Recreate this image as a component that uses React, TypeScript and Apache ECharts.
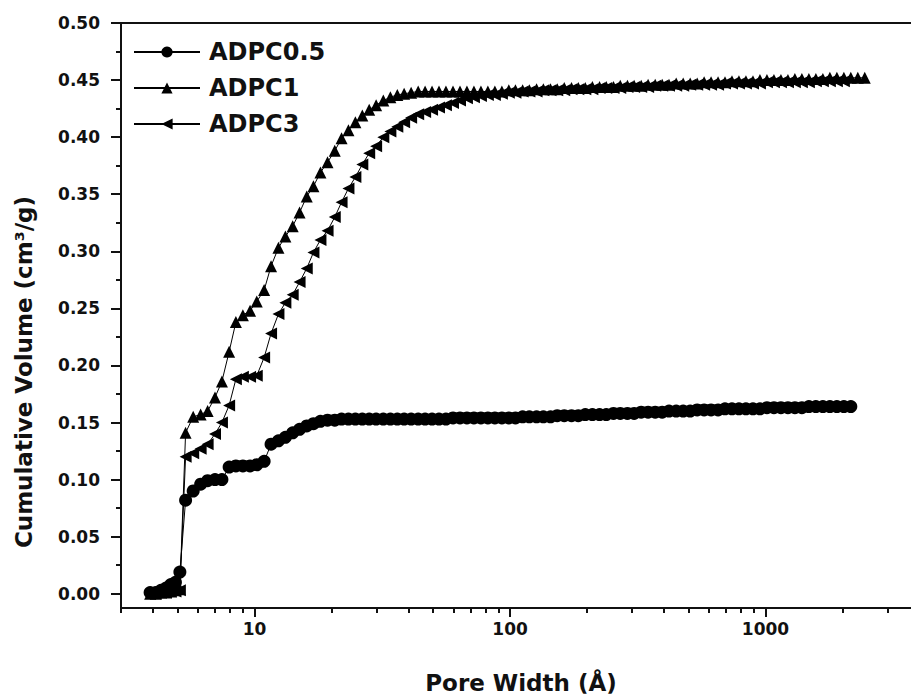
import React, { useEffect, useRef } from "react";
import * as echarts from "echarts";

// Pore widths (Å) shared by the three series
const poreWidth = [
  3.9, 4.1, 4.3, 4.5, 4.7, 4.9, 5.1,
  5.37, 5.75, 6.15, 6.55, 7.0, 7.45, 7.95, 8.45, 9.0, 9.6,
  10.2, 10.9, 11.6, 12.4, 13.2, 14.1, 15.0, 16.0, 17.0, 18.1,
  19.3, 20.6, 21.9, 23.3, 24.8, 26.4, 28.1, 29.9, 31.9, 34.0,
  36.2, 38.5, 41.0, 43.7, 46.5, 49.5, 52.7, 56.1, 59.8, 63.7,
  67.8, 72.2, 76.9, 81.9, 87.2, 92.9, 98.9, 105, 112, 119,
  127, 135, 144, 153, 163, 174, 185, 197, 210, 224,
  238, 254, 270, 288, 306, 326, 347, 370, 394, 419,
  447, 476, 507, 540, 575, 612, 652, 694, 739, 787,
  838, 893, 951, 1013, 1079, 1149, 1224, 1303, 1388, 1478,
  1574, 1677, 1786, 1902, 2026, 2157, 2297, 2446,
];

const adpc05 = [
  0.001, 0.001, 0.003, 0.005, 0.008, 0.010, 0.019,
  0.082, 0.090, 0.096, 0.099, 0.100, 0.100, 0.111, 0.112, 0.112, 0.112,
  0.113, 0.116, 0.131, 0.134, 0.137, 0.141, 0.144, 0.147, 0.149, 0.151,
  0.152, 0.152, 0.153, 0.153, 0.153, 0.153, 0.153, 0.153, 0.153, 0.153,
  0.153, 0.153, 0.153, 0.153, 0.153, 0.153, 0.153, 0.153, 0.154, 0.154,
  0.154, 0.154, 0.154, 0.154, 0.154, 0.154, 0.154, 0.154, 0.155, 0.155,
  0.155, 0.155, 0.155, 0.156, 0.156, 0.156, 0.156, 0.157, 0.157, 0.157,
  0.157, 0.158, 0.158, 0.158, 0.158, 0.159, 0.159, 0.159, 0.159, 0.160,
  0.160, 0.160, 0.160, 0.161, 0.161, 0.161, 0.161, 0.162, 0.162, 0.162,
  0.162, 0.162, 0.162, 0.163, 0.163, 0.163, 0.163, 0.163, 0.163, 0.164,
  0.164, 0.164, 0.164, 0.164, 0.164, 0.164, null, null,
];

const adpc1 = [
  0.000, 0.000, 0.001, 0.001, 0.002, 0.003, 0.004,
  0.141, 0.155, 0.157, 0.160, 0.172, 0.186, 0.212, 0.238, 0.244, 0.248,
  0.256, 0.266, 0.287, 0.303, 0.313, 0.322, 0.334, 0.348, 0.357, 0.369,
  0.378, 0.388, 0.399, 0.406, 0.413, 0.419, 0.424, 0.428, 0.432, 0.435,
  0.437, 0.438, 0.439, 0.440, 0.440, 0.440, 0.440, 0.440, 0.440, 0.440,
  0.440, 0.440, 0.440, 0.440, 0.440, 0.440, 0.441, 0.441, 0.441, 0.441,
  0.442, 0.442, 0.442, 0.442, 0.443, 0.443, 0.443, 0.443, 0.444, 0.444,
  0.444, 0.444, 0.445, 0.445, 0.445, 0.445, 0.446, 0.446, 0.446, 0.446,
  0.447, 0.447, 0.447, 0.447, 0.448, 0.448, 0.448, 0.448, 0.449, 0.449,
  0.449, 0.449, 0.450, 0.450, 0.450, 0.450, 0.450, 0.451, 0.451, 0.451,
  0.451, 0.451, 0.452, 0.452, 0.452, 0.452, 0.452, 0.452,
];

const adpc3 = [
  0.000, 0.000, 0.001, 0.001, 0.002, 0.002, 0.003,
  0.120, 0.123, 0.127, 0.131, 0.140, 0.150, 0.165, 0.188, 0.190, 0.190,
  0.191, 0.207, 0.228, 0.245, 0.255, 0.262, 0.273, 0.285, 0.299, 0.310,
  0.318, 0.330, 0.343, 0.355, 0.365, 0.376, 0.386, 0.392, 0.400, 0.405,
  0.409, 0.413, 0.417, 0.420, 0.422, 0.424, 0.426, 0.428, 0.430, 0.432,
  0.434, 0.435, 0.436, 0.437, 0.437, 0.438, 0.439, 0.439, 0.440, 0.440,
  0.440, 0.441, 0.441, 0.441, 0.441, 0.442, 0.442, 0.442, 0.442, 0.443,
  0.443, 0.443, 0.443, 0.444, 0.444, 0.444, 0.444, 0.445, 0.445, 0.445,
  0.445, 0.445, 0.446, 0.446, 0.446, 0.446, 0.446, 0.447, 0.447, 0.447,
  0.447, 0.447, 0.447, 0.448, 0.448, 0.448, 0.448, 0.448, 0.448, 0.448,
  0.449, 0.449, 0.449, 0.449, 0.449, null, null, null,
];

const seriesNames = ["ADPC0.5", "ADPC1", "ADPC3"];
const xMajorTicks = [10, 100, 1000];
const xMinorTicks = [
  3, 4, 5, 6, 7, 8, 9,
  20, 30, 40, 50, 60, 70, 80, 90,
  200, 300, 400, 500, 600, 700, 800, 900,
  2000, 3000, 4000, 5000, 6000, 7000, 8000, 9000,
];
const yMajorTicks = [0, 0.05, 0.1, 0.15, 0.2, 0.25, 0.3, 0.35, 0.4, 0.45, 0.5];
const yMinorTicks = [0.025, 0.075, 0.125, 0.175, 0.225, 0.275, 0.325, 0.375, 0.425, 0.475];

const FONT = "'DejaVu Sans', sans-serif";
const INK = "#111";
const X_MIN = 3;
const X_MAX = 10000;
const Y_MIN = -0.0125;
const Y_MAX = 0.5;

function pairs(values: (number | null)[]) {
  const out: [number, number][] = [];
  values.forEach((v, i) => {
    if (v !== null) out.push([poreWidth[i], v]);
  });
  return out;
}

export default function App() {
  const ref = useRef<HTMLDivElement>(null);

  useEffect(() => {
    if (!ref.current) return;
    const chart = echarts.init(ref.current, undefined, { renderer: "svg" });
    const axisLine = { show: true, onZero: false, lineStyle: { color: INK, width: 2 } };
    const noLine = { show: false, onZero: false };
    const baseX = { type: "log", logBase: 10, min: X_MIN, max: X_MAX, splitLine: { show: false } };
    // helper axes in log10 space that only carry tick marks
    const tickX = {
      type: "value",
      min: Math.log10(X_MIN),
      max: Math.log10(X_MAX),
      position: "bottom",
      splitLine: { show: false },
      axisLine: noLine,
      axisLabel: { show: false },
    };
    const baseY = { type: "value", min: Y_MIN, max: Y_MAX, splitLine: { show: false } };
    const symbols = ["circle", "triangle", "path://M0,5L10,0L10,10Z"];
    const sizes = [13, 12, 12];
    const data = [adpc05, adpc1, adpc3];

    chart.setOption({
      animation: false,
      backgroundColor: "#fff",
      grid: { left: 121, top: 23, width: 900, height: 585, containLabel: false, outerBoundsMode: "none" },
      legend: {
        orient: "vertical",
        left: 133,
        top: 40,
        padding: 0,
        itemWidth: 66,
        itemHeight: 14,
        itemGap: 12,
        data: seriesNames,
        textStyle: { fontFamily: FONT, fontWeight: "bold", fontSize: 24, color: INK, padding: [0, 0, 0, 4] },
      },
      xAxis: [
        {
          ...baseX,
          position: "bottom",
          axisLine,
          axisTick: { show: false },
          axisLabel: {
            show: true,
            customValues: xMajorTicks,
            margin: 12,
            formatter: (v: number) => String(Math.round(v)),
            fontFamily: FONT,
            fontWeight: "bold",
            fontSize: 17,
            color: INK,
          },
        },
        {
          ...tickX,
          axisTick: {
            show: true,
            inside: false,
            length: 9,
            customValues: xMajorTicks.map((t) => Math.log10(t)),
            lineStyle: { color: INK, width: 2 },
          },
        },
        {
          ...tickX,
          axisTick: {
            show: true,
            inside: false,
            length: 5,
            customValues: xMinorTicks.map((t) => Math.log10(t)),
            lineStyle: { color: INK, width: 2 },
          },
        },
        {
          ...baseX,
          position: "top",
          axisLine,
          axisTick: { show: false },
          axisLabel: { show: false },
        },
      ],
      yAxis: [
        {
          ...baseY,
          position: "left",
          axisLine,
          axisTick: { show: true, inside: false, length: 10, customValues: yMajorTicks, lineStyle: { color: INK, width: 2 } },
          axisLabel: {
            show: true,
            customValues: yMajorTicks,
            margin: 21,
            formatter: (v: number) => v.toFixed(2),
            fontFamily: FONT,
            fontWeight: "bold",
            fontSize: 17,
            color: INK,
          },
        },
        {
          ...baseY,
          position: "left",
          axisLine: noLine,
          axisTick: { show: true, inside: false, length: 5, customValues: yMinorTicks, lineStyle: { color: INK, width: 2 } },
          axisLabel: { show: false },
        },
      ],
      graphic: [
        {
          type: "text",
          x: 24,
          y: 372,
          rotation: Math.PI / 2,
          style: {
            text: "Cumulative Volume (cm³/g)",
            font: `bold 23px ${FONT}`,
            fill: INK,
            align: "center",
            verticalAlign: "middle",
            textAlign: "center",
            textVerticalAlign: "middle",
          },
        },
        {
          type: "text",
          x: 521,
          y: 683,
          style: {
            text: "Pore Width (Å)",
            font: `bold 23px ${FONT}`,
            fill: INK,
            align: "center",
            verticalAlign: "middle",
            textAlign: "center",
            textVerticalAlign: "middle",
          },
        },
      ],
      series: seriesNames.map((name, i) => ({
        name,
        type: "line",
        xAxisIndex: 0,
        yAxisIndex: 0,
        data: pairs(data[i]),
        symbol: symbols[i],
        symbolSize: sizes[i],
        showSymbol: true,
        showAllSymbol: true,
        itemStyle: { color: "#000" },
        lineStyle: { color: "#000", width: 1 },
        emphasis: { disabled: true },
      })),
    });
    return () => chart.dispose();
  }, []);

  return (
    <div style={{ position: "fixed", left: 0, top: 0, width: 911, height: 700, overflow: "hidden", background: "#fff" }}>
      <div ref={ref} style={{ width: 1040, height: 700 }} />
    </div>
  );
}
